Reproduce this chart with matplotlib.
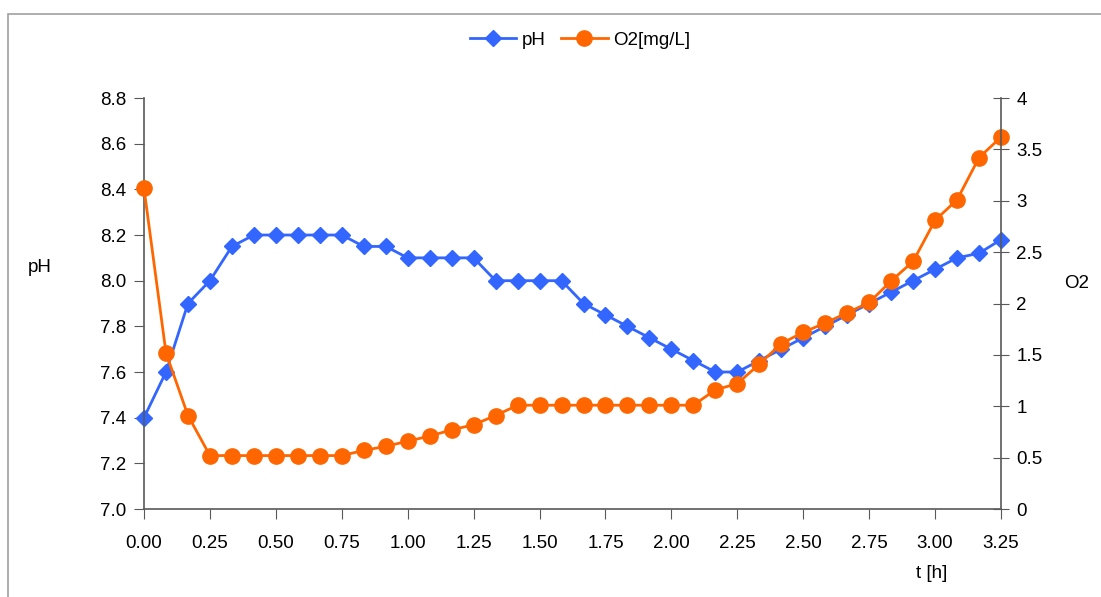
import matplotlib
matplotlib.use("Agg")
import matplotlib.pyplot as plt
from matplotlib.patches import Rectangle

# time in hours, one reading every 5 minutes
t_h = [i / 12 for i in range(40)]

ph = [7.40, 7.60, 7.90, 8.00, 8.15, 8.20, 8.20, 8.20, 8.20, 8.20,
      8.15, 8.15, 8.10, 8.10, 8.10, 8.10, 8.00, 8.00, 8.00, 8.00,
      7.90, 7.85, 7.80, 7.75, 7.70, 7.65, 7.60, 7.60, 7.65, 7.70,
      7.75, 7.80, 7.85, 7.90, 7.95, 8.00, 8.05, 8.10, 8.12, 8.18]

o2 = [3.12, 1.52, 0.91, 0.52, 0.52, 0.52, 0.52, 0.52, 0.52, 0.52,
      0.57, 0.61, 0.66, 0.71, 0.77, 0.82, 0.91, 1.01, 1.01, 1.01,
      1.01, 1.01, 1.01, 1.01, 1.01, 1.01, 1.16, 1.22, 1.41, 1.61,
      1.72, 1.81, 1.91, 2.01, 2.22, 2.41, 2.81, 3.01, 3.42, 3.62]

x_ticks = [0.0, 0.25, 0.5, 0.75, 1.0, 1.25, 1.5, 1.75, 2.0, 2.25, 2.5, 2.75, 3.0, 3.25]
ph_ticks = [7.0, 7.2, 7.4, 7.6, 7.8, 8.0, 8.2, 8.4, 8.6, 8.8]
o2_ticks = [0, 0.5, 1, 1.5, 2, 2.5, 3, 3.5, 4]

plt.rcParams['font.family'] = ['Liberation Sans', 'DejaVu Sans']
plt.rcParams['font.size'] = 13.5

blue = '#3366FF'
orange = '#FF6600'
axis_col = '#595959'

fig = plt.figure(figsize=(11.01, 5.97), dpi=100)
ax = fig.add_axes([0.1308, 0.1474, 0.9092 - 0.1308, 0.8358 - 0.1474])
ax2 = ax.twinx()

l1, = ax.plot(t_h, ph, color=blue, marker='D', markersize=8, linewidth=2,
              label='pH', clip_on=False)
l2, = ax2.plot(t_h, o2, color=orange, marker='o', markersize=11, linewidth=2,
               label='O2[mg/L]', clip_on=False)
ax2.set_zorder(ax.get_zorder() + 1)

ax.set_xlim(0, 3.25)
ax.set_ylim(7.0, 8.8)
ax2.set_ylim(0, 4)
ax.set_xticks(x_ticks)
ax.set_xticklabels(['%.2f' % v for v in x_ticks])
ax.set_yticks(ph_ticks)
ax.set_yticklabels(['%.1f' % v for v in ph_ticks])
ax2.set_yticks(o2_ticks)
ax2.set_yticklabels(['%g' % v for v in o2_ticks])

for a in (ax, ax2):
    a.spines['top'].set_visible(False)
    for s in ('left', 'right', 'bottom'):
        a.spines[s].set_color(axis_col)
        a.spines[s].set_linewidth(1.2)
ax.spines['right'].set_visible(False)
ax2.spines['left'].set_visible(False)
ax2.spines['bottom'].set_visible(False)

ax.tick_params(axis='x', direction='out', length=7, color=axis_col, pad=12)
ax.tick_params(axis='y', direction='out', length=7, color=axis_col, pad=6)
ax2.tick_params(axis='y', direction='inout', length=12, color=axis_col, pad=5)

fig.text(40 / 1101, 1 - 268 / 597, 'pH', ha='center', va='center')
fig.text(1077 / 1101, 1 - 284 / 597, 'O2', ha='center', va='center')
fig.text(932 / 1101, 1 - 573 / 597, 't [h]', ha='center', va='center')

fig.legend(handles=[l1, l2], loc='center', bbox_to_anchor=(580 / 1101, 1 - 40 / 597),
           ncol=2, frameon=False, handlelength=2.5, columnspacing=0.8, handletextpad=0.3)

fig.patches.append(Rectangle((8 / 1101, -0.05), 1.2, 1 - 14 / 597 + 0.05,
                             transform=fig.transFigure, fill=False,
                             edgecolor='#A0A0A0', linewidth=1.2))

fig.savefig('out.png', dpi=100)
